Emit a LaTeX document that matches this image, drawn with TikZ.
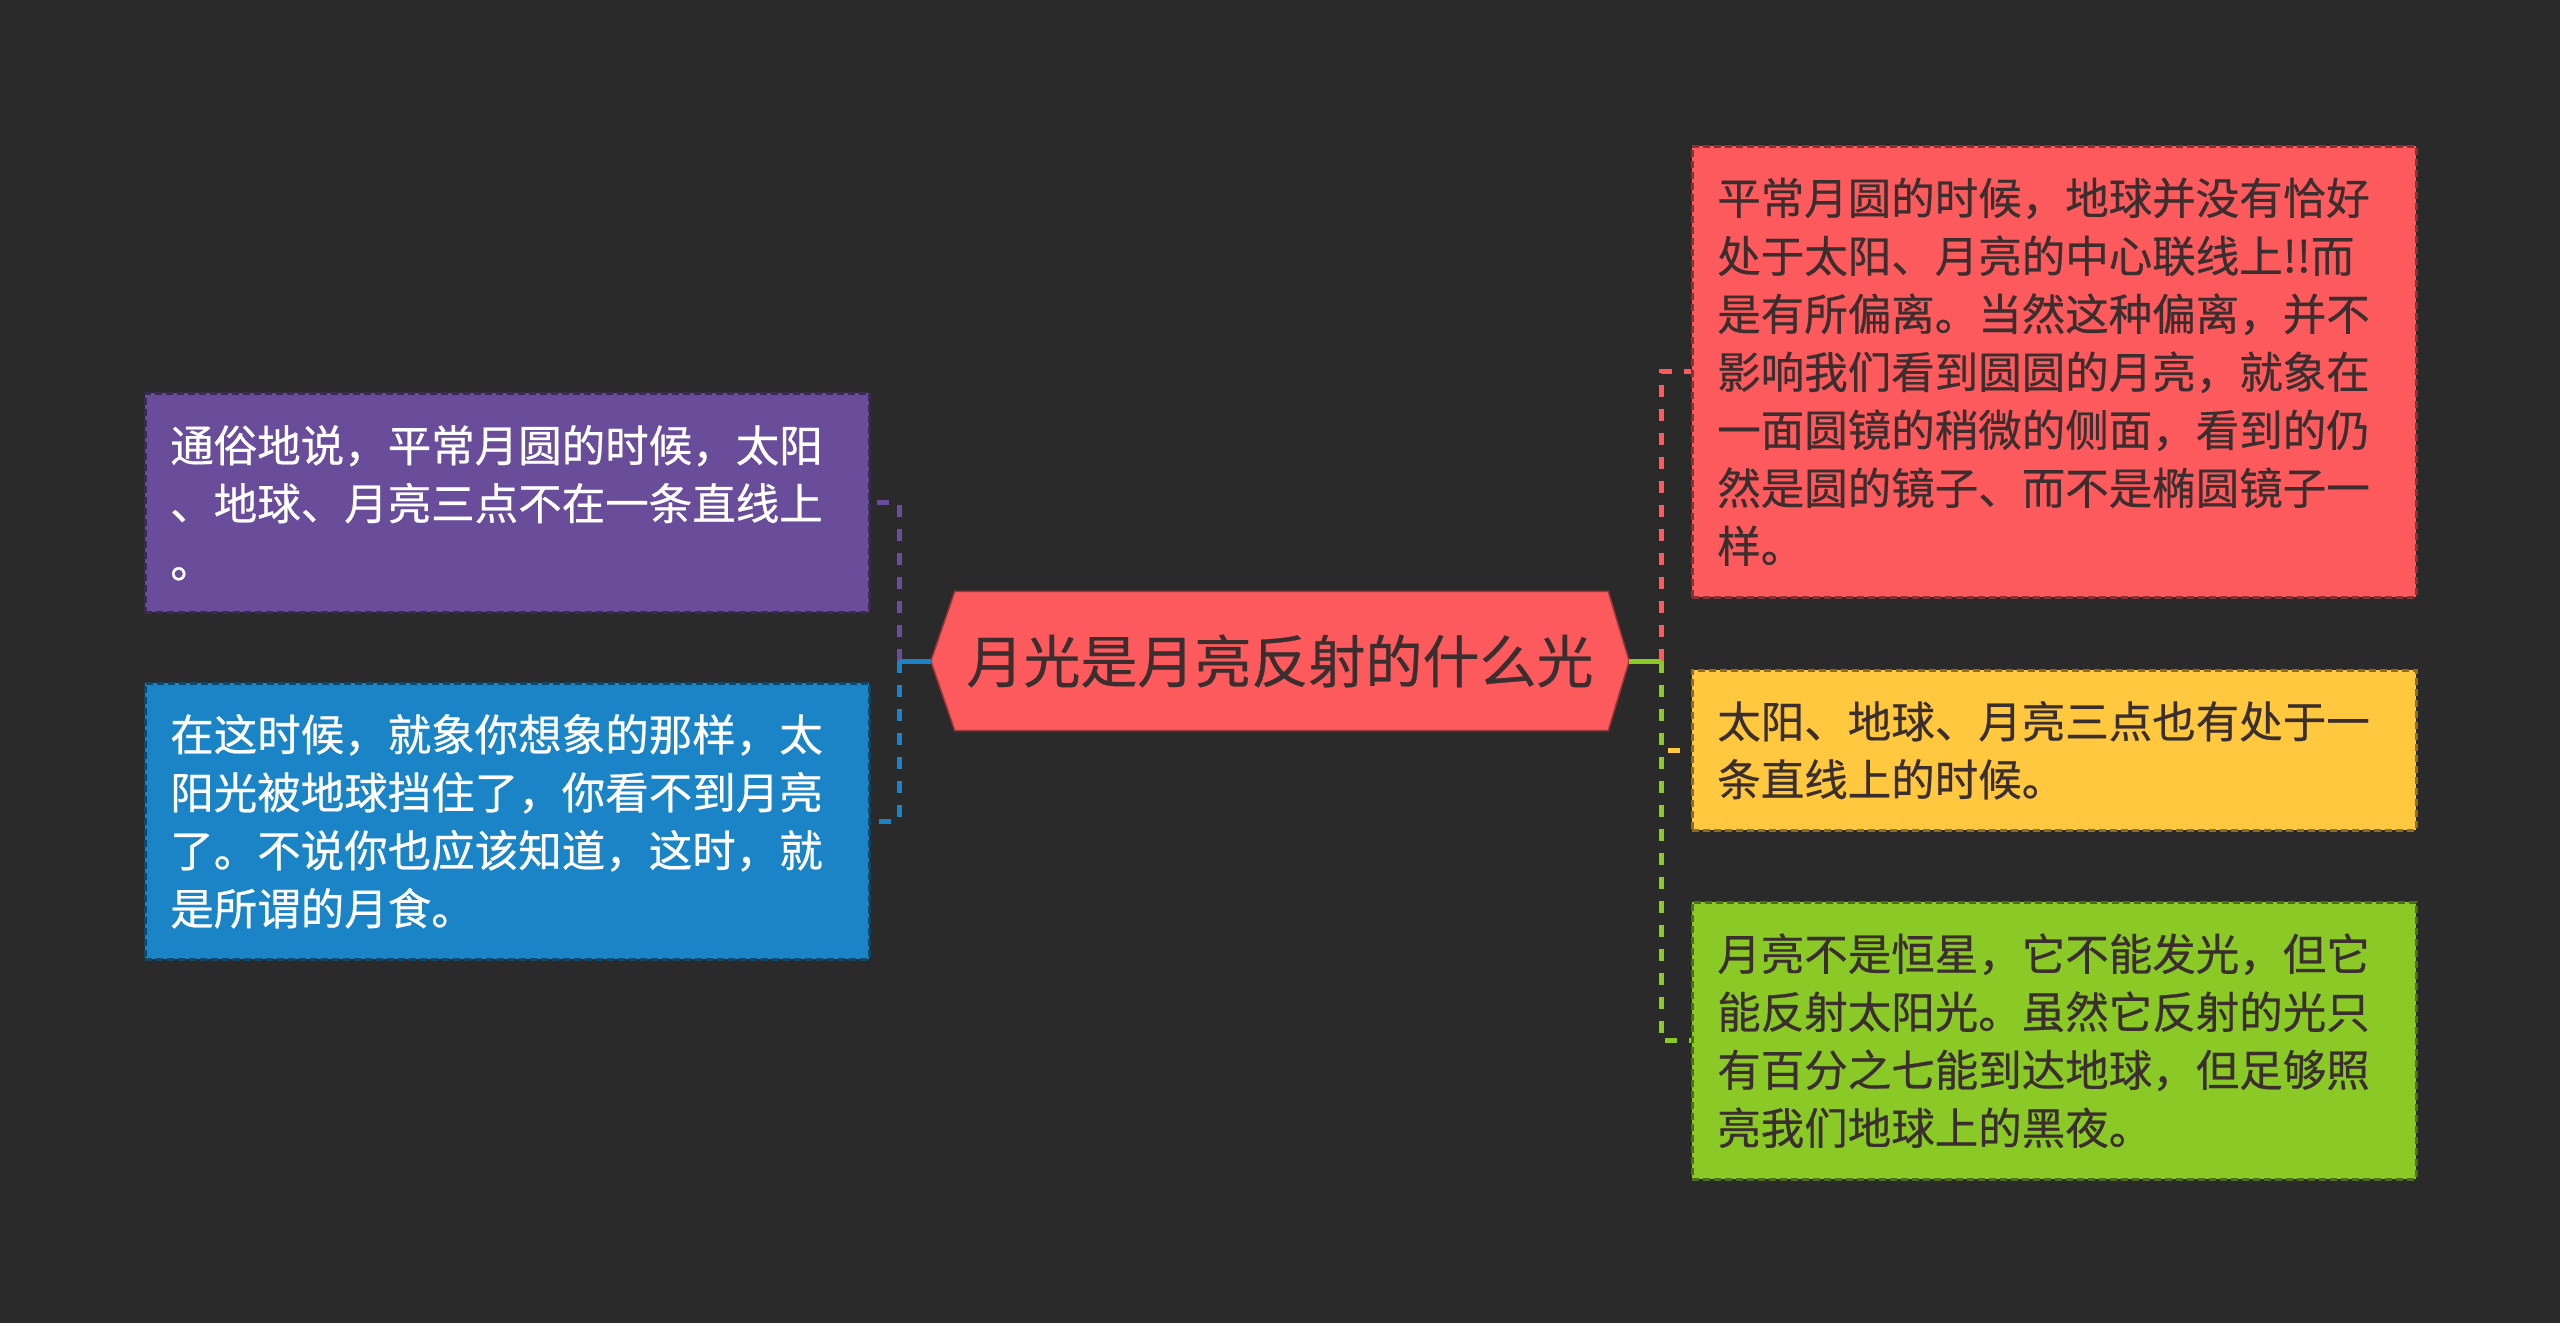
\documentclass[tikz,border=0pt]{standalone}
\usepackage{fontspec}
\newfontfamily\cjk{Noto Sans CJK SC}[FakeBold=0.5]
\usetikzlibrary{backgrounds}
\definecolor{bg}{HTML}{2A2A2A}
\definecolor{cred}{HTML}{FD5A5E}
\definecolor{cyellow}{HTML}{FFC83E}
\definecolor{cgreen}{HTML}{8BC926}
\definecolor{cpurple}{HTML}{6A4D9A}
\definecolor{cblue}{HTML}{1A84C7}
\definecolor{darktext}{HTML}{3A2E2E}
\tikzset{
  box/.style={rectangle, anchor=north west, draw=#1!55!black, fill=#1,
    dash pattern=on 7pt off 4pt, line width=2.5pt,
    inner xsep=25pt, inner ysep=0pt, minimum width=724pt, text width=674pt,
    align=left, font=\cjk\fontsize{43.5}{58}\selectfont},
  conn/.style={line width=5pt},
  dconn/.style={line width=5pt, dash pattern=on 12pt off 12pt},
}
\begin{document}
\begin{tikzpicture}[x=1pt,y=-1pt]
\useasboundingbox (0,0) rectangle (2560,1323);
\node[minimum width=698pt, minimum height=139pt, inner sep=0pt, text=darktext,
  font=\cjk\fontsize{57}{60}\selectfont] (c) at (1280,661) {月光是月亮反射的什么光};
\begin{scope}[on background layer]
\fill[bg] (0,0) rectangle (2560,1323);
\fill[cred, draw=cred!60!black, line width=1.5pt] (c.west) -- ([xshift=24pt]c.north west) -- ([xshift=-21pt]c.north east) -- (c.east)
  -- ([xshift=-21pt]c.south east) -- ([xshift=24pt]c.south west) -- cycle;
\end{scope}

\node[box=cpurple, text=white, minimum height=219pt] (p) at (144,392)
  {通俗地说，平常月圆的时候，太阳\\、地球、月亮三点不在一条直线上\\。};
\node[box=cblue, text=white, minimum height=276pt] (b) at (144,682)
  {在这时候，就象你想象的那样，太\\阳光被地球挡住了，你看不到月亮\\了。不说你也应该知道，这时，就\\是所谓的月食。};
\node[box=cred, text=darktext, minimum height=451pt] (r) at (1691,145)
  {平常月圆的时候，地球并没有恰好\\处于太阳、月亮的中心联线上!!而\\是有所偏离。当然这种偏离，并不\\影响我们看到圆圆的月亮，就象在\\一面圆镜的稍微的侧面，看到的仍\\然是圆的镜子、而不是椭圆镜子一\\样。};
\node[box=cyellow, text=darktext, minimum height=160pt] (y) at (1691,669)
  {太阳、地球、月亮三点也有处于一\\条直线上的时候。};
\node[box=cgreen, text=darktext, minimum height=277pt] (g) at (1691,901)
  {月亮不是恒星，它不能发光，但它\\能反射太阳光。虽然它反射的光只\\有百分之七能到达地球，但足够照\\亮我们地球上的黑夜。};

\coordinate (lt) at (899,661);
\coordinate (rt) at (1661,661);
\draw[cpurple, dconn] (lt) |- (p.east);
\draw[cblue, dconn] (lt) |- (b.east);
\draw[cblue, conn] (c.west) -- (lt);
\draw[cred, dconn] (rt) |- (r.west);
\draw[cyellow, dconn] (rt) |- (y.west);
\draw[cgreen, dconn] (rt) |- (g.west);
\draw[cgreen, conn] (c.east) -- (rt);
\end{tikzpicture}
\end{document}
